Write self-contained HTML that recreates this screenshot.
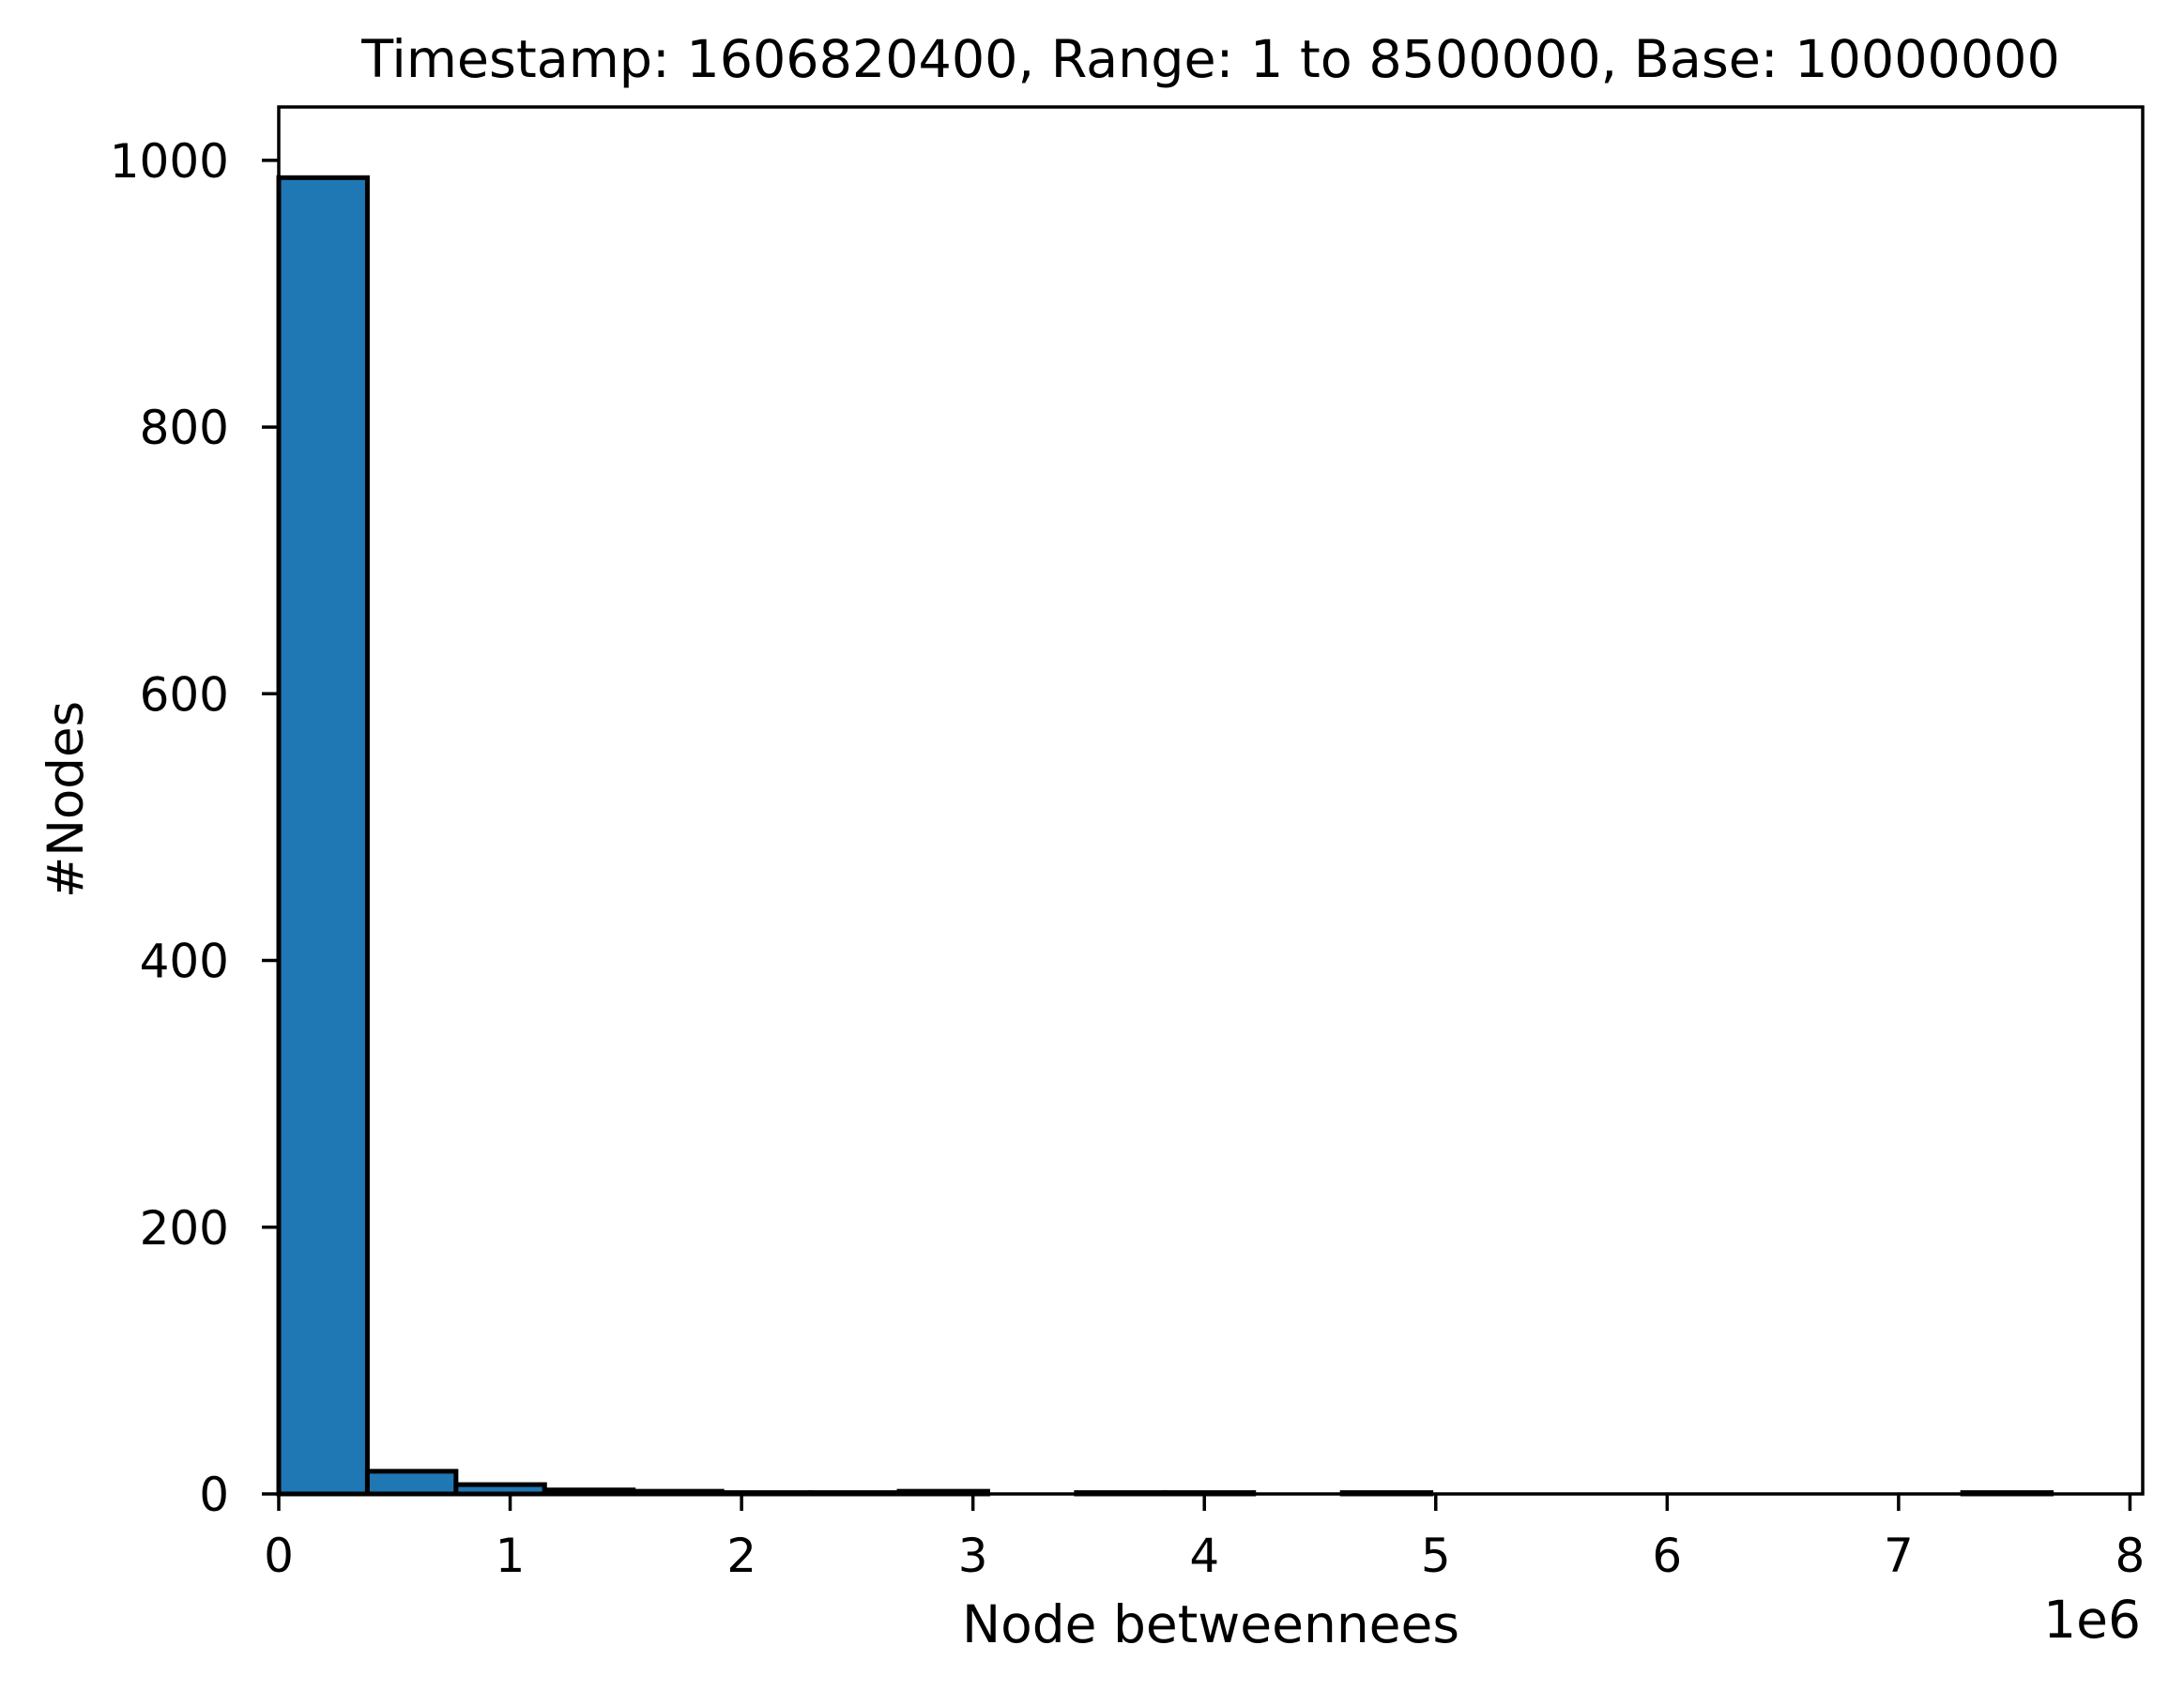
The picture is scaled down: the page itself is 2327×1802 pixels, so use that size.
<!DOCTYPE html>
<html><head><meta charset="utf-8"><style>
html,body{margin:0;padding:0;background:#fff;}
svg{display:block;font-family:"DejaVu Sans","Liberation Sans",sans-serif;}
</style></head><body>
<svg id="chart" width="2327" height="1802" viewBox="0 0 2327 1802">
<rect width="2327" height="1802" fill="#fff"/>
<g id="bars"></g>
<g id="axes"></g>
<text x="1290" y="82" font-size="55.5" text-anchor="middle">Timestamp: 1606820400, Range: 1 to 8500000, Base: 10000000</text>
<text x="1290" y="1750" font-size="55" text-anchor="middle">Node betweennees</text>
<text x="2281" y="1745" font-size="55" text-anchor="end">1e6</text>
<text transform="translate(88,852) rotate(-90)" font-size="53" text-anchor="middle">#Nodes</text>
</svg>
<script>
const binEdgesStart = 0;
const binWidth = 0.383;
const counts = [987,17,7,3,2,1,1,2,0,1,1,0,1,0,0,0,0,0,0,1];
const xTicks = [0,1,2,3,4,5,6,7,8];
const yTicks = [0,200,400,600,800,1000];

const L=297,R=2283,T=114,B=1592;
const xMin=0,xMax=8.055,yMin=0,yMax=1040;
function xs(v){return L+(v-xMin)/(xMax-xMin)*(R-L);}
function ys(v){return B-(v-yMin)/(yMax-yMin)*(B-T);}
const NS="http://www.w3.org/2000/svg";
const bars=document.getElementById('bars'), axes=document.getElementById('axes');
function mk(tag,attrs,parent){const e=document.createElementNS(NS,tag);for(const k in attrs)e.setAttribute(k,attrs[k]);parent.appendChild(e);return e;}
counts.forEach((c,i)=>{
  const x0=xs(binEdgesStart+i*binWidth), x1=xs(binEdgesStart+(i+1)*binWidth);
  const r=mk('rect',{x:x0,y:ys(c),width:x1-x0,height:ys(0)-ys(c),fill:'#1f77b4',stroke:'#000','stroke-width':5},bars);
  
  
});
const frame=mk('rect',{x:L,y:T,width:R-L,height:B-T,fill:'none',stroke:'#000','stroke-width':3.5},axes);


xTicks.forEach(t=>{
  const x=xs(t);
  const ln=mk('line',{x1:x,x2:x,y1:B,y2:B+18,stroke:'#000','stroke-width':3.5},axes);
  
  
  const tx=mk('text',{x:x,y:1675,'font-size':50,'text-anchor':'middle'},axes);
  tx.textContent=t;
  
  
});
yTicks.forEach(t=>{
  const y=ys(t);
  const ln=mk('line',{x1:L-18,x2:L,y1:y,y2:y,stroke:'#000','stroke-width':3.5},axes);
  
  
  const tx=mk('text',{x:244,y:y+18,'font-size':50,'text-anchor':'end'},axes);
  tx.textContent=t;
  
  
});
</script>
</body></html>
